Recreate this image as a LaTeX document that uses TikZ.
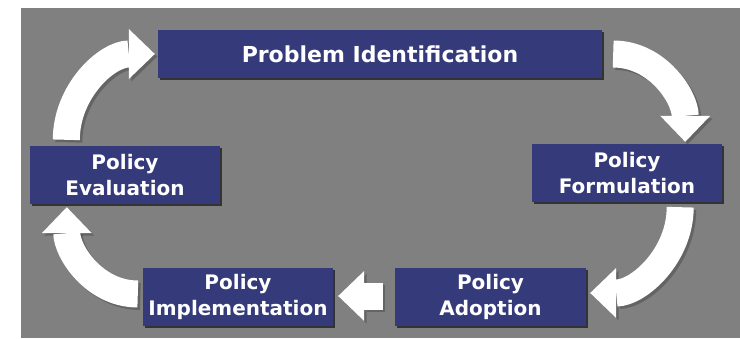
\documentclass[tikz,border=0pt]{standalone}
\usepackage{fontspec}
\setmainfont{DejaVu Sans}
\usepackage{tikz}
\usetikzlibrary{arrows.meta}
\usetikzlibrary{shadows}
\definecolor{PolicyBlue}{RGB}{52, 58, 122}
\definecolor{PolicyGray}{RGB}{128, 128, 128}
\definecolor{PolicyShade}{RGB}{60, 60, 60}
\newcommand{\cycleflow}[1]{%
    \draw[flowshade] #1;
    \draw[flow] #1;
}

\begin{document}
\begin{tikzpicture}[
    x = 1pt,
    y = 1pt,
    flow/.style = {
        draw       = white,
        line width = 27pt,
        -{Triangle[length = 26pt 0, width = 50pt 0, line width = 0pt]},
    },
    flowshade/.style = {
        flow,
        draw             = PolicyShade,
        opacity          = 0.4,
        transform canvas = {shift = {(2.5pt, -2.5pt)}},
    },
]
    \useasboundingbox (0, 0) rectangle (740, 338);
    \fill[PolicyGray] (21, 0) rectangle (740, 330);

    \begin{scope}[
        every node/.style = {
            shape          = rectangle,
            fill           = PolicyBlue,
            text           = white,
            align          = center,
            inner sep      = 0pt,
            minimum width  = 190pt,
            minimum height = 58pt,
            font           = \bfseries\fontsize{20}{25.5}\selectfont,
            drop shadow    = {shadow xshift = 2pt, shadow yshift = -2pt,
                              fill = black, opacity = 0.6},
        }
    ]
        \node (prob) at (380, 284) [minimum width = 444pt, minimum height = 48pt,
            font = \bfseries\fontsize{22}{26}\selectfont] {Problem Identification};
        \node (form) at (627, 165) {Policy\\Formulation};
        \node (adop) at (490.5, 41) [minimum width = 191pt] {Policy\\Adoption};
        \node (impl) at (238, 41) {Policy\\Implementation};
        \node (eval) at (125, 163) {Policy\\Evaluation};
    \end{scope}

    \cycleflow{([xshift = 36.5pt, yshift = 6pt]eval.north west) to[out = 90, in = 180] ([xshift = -3pt]prob.west)}
    \cycleflow{([xshift = 11pt]prob.east) to[out = 0, in = 90] ([xshift = -37pt, yshift = 2pt]form.north east)}
    \cycleflow{([xshift = -42pt, yshift = -5pt]form.south east) to[out = -90, in = 0] ([xshift = 4pt, yshift = 4pt]adop.east)}
    \cycleflow{([xshift = -12pt, yshift = 1pt]adop.west) -- ([xshift = 5pt, yshift = 1pt]impl.east)}
    \cycleflow{([xshift = -5pt, yshift = 3pt]impl.west) to[out = 180, in = -90] ([xshift = 37pt, yshift = -3pt]eval.south west)}
\end{tikzpicture}
\end{document}
